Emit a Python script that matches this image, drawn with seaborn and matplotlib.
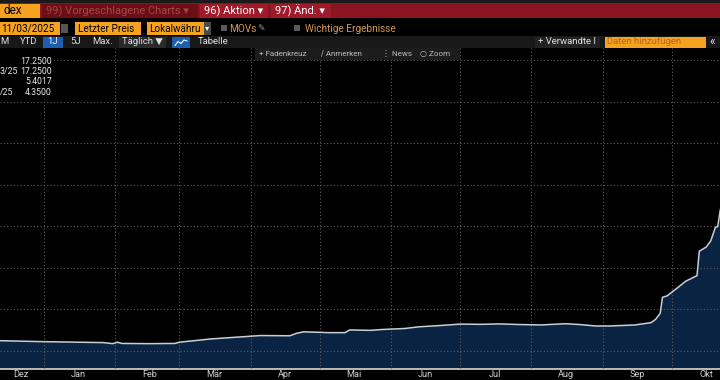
import matplotlib
matplotlib.use("Agg")
import matplotlib.pyplot as plt
from matplotlib.patches import Rectangle
import pandas as pd
import seaborn as sns

# daily closes (last points lie beyond the cropped right edge)
dates = [
    "2024-12-10", "2024-12-30", "2025-01-16", "2025-01-27", "2025-01-31",
    "2025-02-02", "2025-02-04", "2025-02-16", "2025-02-27", "2025-03-01",
    "2025-03-15", "2025-03-31", "2025-04-05", "2025-04-18", "2025-04-21",
    "2025-04-24", "2025-05-05", "2025-05-12", "2025-05-14", "2025-05-23",
    "2025-05-28", "2025-06-07", "2025-06-13", "2025-06-22", "2025-07-01",
    "2025-07-10", "2025-07-18", "2025-07-27", "2025-08-05", "2025-08-16",
    "2025-08-22", "2025-08-29", "2025-09-04", "2025-09-15", "2025-09-22",
    "2025-09-24", "2025-09-26", "2025-09-27", "2025-09-29", "2025-10-04",
    "2025-10-07", "2025-10-11", "2025-10-12", "2025-10-13", "2025-10-16",
    "2025-10-18", "2025-10-20", "2025-10-21", "2025-10-22", "2025-10-27",
    "2025-10-31", "2025-11-03",
]
prices = [
    4.50, 4.45, 4.42, 4.40, 4.35,
    4.42, 4.36, 4.35, 4.36, 4.42,
    4.58, 4.70, 4.74, 4.73, 4.85,
    4.92, 4.88, 4.88, 5.01, 4.99,
    5.03, 5.08, 5.16, 5.22, 5.29,
    5.28, 5.30, 5.27, 5.25, 5.31,
    5.27, 5.20, 5.20, 5.25, 5.36,
    5.52, 5.81, 6.58, 6.65, 7.08,
    7.35, 7.57, 7.62, 8.80, 9.00,
    9.30, 9.95, 9.98, 10.70, 13.50,
    15.90, 17.25,
]
month_labels = ["Dez", "Jan", "Feb", "Mär", "Apr", "Mai", "Jun", "Jul", "Aug", "Sep", "Okt"]
legend_prefix = ["", "3/25", "", "/25"]
legend_values = ["17.2500", "17.2500", "5.4017", "4.3500"]

sns.set_theme(style="dark")
plt.rcParams["font.family"] = ["Roboto", "DejaVu Sans"]

df = pd.DataFrame({"date": pd.to_datetime(dates), "price": prices})
x_start, x_end = pd.Timestamp("2024-12-13"), pd.Timestamp("2025-10-22")

fig = plt.figure(figsize=(7.2, 3.8), dpi=100, facecolor="black")

# -------------------------------
# price chart
# -------------------------------
ax = fig.add_axes([0, 11 / 380, 1, 321 / 380])
ax.set_facecolor("black")
ax.fill_between(df["date"], df["price"], 0, color="#0b2342", lw=0, zorder=1)
sns.lineplot(data=df, x="date", y="price", ax=ax, color="#c9ced4", lw=1.1, zorder=3)
ax.set_xlim(x_start, x_end)
ax.set_ylim(3.13, 18.58)
ax.set_yticks(range(4, 19, 2))
ax.yaxis.set_ticklabels([])
ax.tick_params(axis="y", length=0)

month_starts = pd.date_range("2025-01-01", "2025-10-01", freq="MS")
ax.set_xticks(month_starts)
ax.set_xticklabels([])
label_pos = [pd.Timestamp("2024-12-22")] + [m + pd.Timedelta(days=15) for m in month_starts]
ax.set_xticks(label_pos, minor=True)
ax.set_xticklabels(month_labels, minor=True, color="#d0d0d0", fontsize=6.6)
ax.tick_params(axis="x", which="minor", length=0, pad=0.4)
ax.tick_params(axis="x", which="major", length=3, width=0.8, color="#777777")
ax.set_axisbelow(False)
ax.grid(True, which="major", color="#5c5c5c", ls=(0, (1, 2)), lw=0.8)
for s in ["top", "left", "right"]:
    ax.spines[s].set_visible(False)
ax.spines["bottom"].set_color("#d8d8d8")
ax.spines["bottom"].set_linewidth(1.2)
ax.set_xlabel("")
ax.set_ylabel("")

# -------------------------------
# terminal header / toolbars
# -------------------------------
hud = fig.add_axes([0, 0, 1, 1], zorder=10)
hud.set_xlim(0, 720)
hud.set_ylim(380, 0)
hud.axis("off")


def box(x, y, w, h, c):
    hud.add_patch(Rectangle((x, y), w, h, color=c, lw=0))


def label(x, y, s, c, size, ha="left", **kw):
    hud.text(x, y, s, color=c, fontsize=size, ha=ha, va="center", **kw)


orange = "#f4a21f"
tan = "#d9984c"

box(0, 0, 720, 3, "#1a1a1a")
box(0, 3, 720, 15, "#8a1520")
box(0, 4, 40, 14, orange)
label(3, 11, "dex", "black", 8.5)
box(42, 4, 156, 14, "#6b0f15")
label(46, 11, "99) Vorgeschlagene Charts ▾", "#a3464c", 8)
box(200, 4, 68, 14, "#a01a2a")
label(204, 11, "96) Aktion ▾", "white", 8)
box(271, 4, 60, 14, "#a01a2a")
label(275, 11, "97) Änd. ▾", "white", 8)

# row 2
box(0, 22, 60, 13, orange)
label(1, 28.5, "11/03/2025", "black", 7.2)
box(61, 24, 7, 9, "#555555")
box(75, 22, 66, 13, orange)
label(78, 28.5, "Letzter Preis", "black", 7.2)
box(147, 22, 57, 13, orange)
label(149, 28.5, "Lokalwähru", "black", 7.2)
box(204, 22, 7, 13, "#4a4a4a")
label(207.5, 28.5, "▾", "white", 6, ha="center")
box(221, 25, 6, 6, "#5a5a5a")
label(229, 28.5, "MOVs", tan, 7.2)
label(257, 28.5, "✎", "#9a9a9a", 6.5)
box(294, 25, 6, 6, "#5a5a5a")
label(305, 28.5, "Wichtige Ergebnisse", tan, 7.2)

# row 3
box(0, 36, 720, 12, "#181818")
label(0, 42, "M", "#e0e0e0", 6.8)
label(20, 42, "YTD", "#e0e0e0", 6.8)
box(43, 37, 20, 11, "#1d5fae")
label(53, 42, "1J", "#e6f0ff", 6.8, ha="center")
label(70, 42, "5J", "#e0e0e0", 6.8)
label(92, 42, "Max.", "#e0e0e0", 6.8)
box(119, 37, 47, 11, "#2a2a2a")
label(122, 42, "Täglich ▼", "#e0e0e0", 6.8)
box(172, 37, 18, 11, "#1d5fae")
hud.plot([175, 178, 181, 184, 187], [45.5, 41.5, 43.5, 40, 41], color="white", lw=0.8)
label(198, 42, "Tabelle", "#e0e0e0", 6.8)
box(535, 37, 65, 11, "#222222")
label(538, 42, "+ Verwandte I", "#e0e0e0", 6.8)
box(605, 37, 101, 11, orange)
label(607, 42, "Daten hinzufügen", "#b5671a", 6.8)
label(709, 41.5, "«", "#e0e0e0", 8.5)

# row 4 (chart toolbar overlay)
box(255, 48, 205, 12, "#1c1c1c")
label(259, 54, "+ Fadenkreuz", "#bdbdbd", 5.8)
label(321, 54, "∕ Anmerken", "#bdbdbd", 5.8)
label(382, 54, "⋮ News", "#bdbdbd", 5.8)
label(420, 54, "○ Zoom", "#bdbdbd", 5.8)

# legend (cropped)
box(0, 49, 54, 50, "black")
for i, (pre, val) in enumerate(zip(legend_prefix, legend_values)):
    y = 61 + i * 10.4
    label(52, y, val, "#e8e8e8", 6.3, ha="right")
    if pre:
        label(0, y, pre, "#e8e8e8", 6.3)

fig.savefig("out.png", dpi=100, facecolor="black")
